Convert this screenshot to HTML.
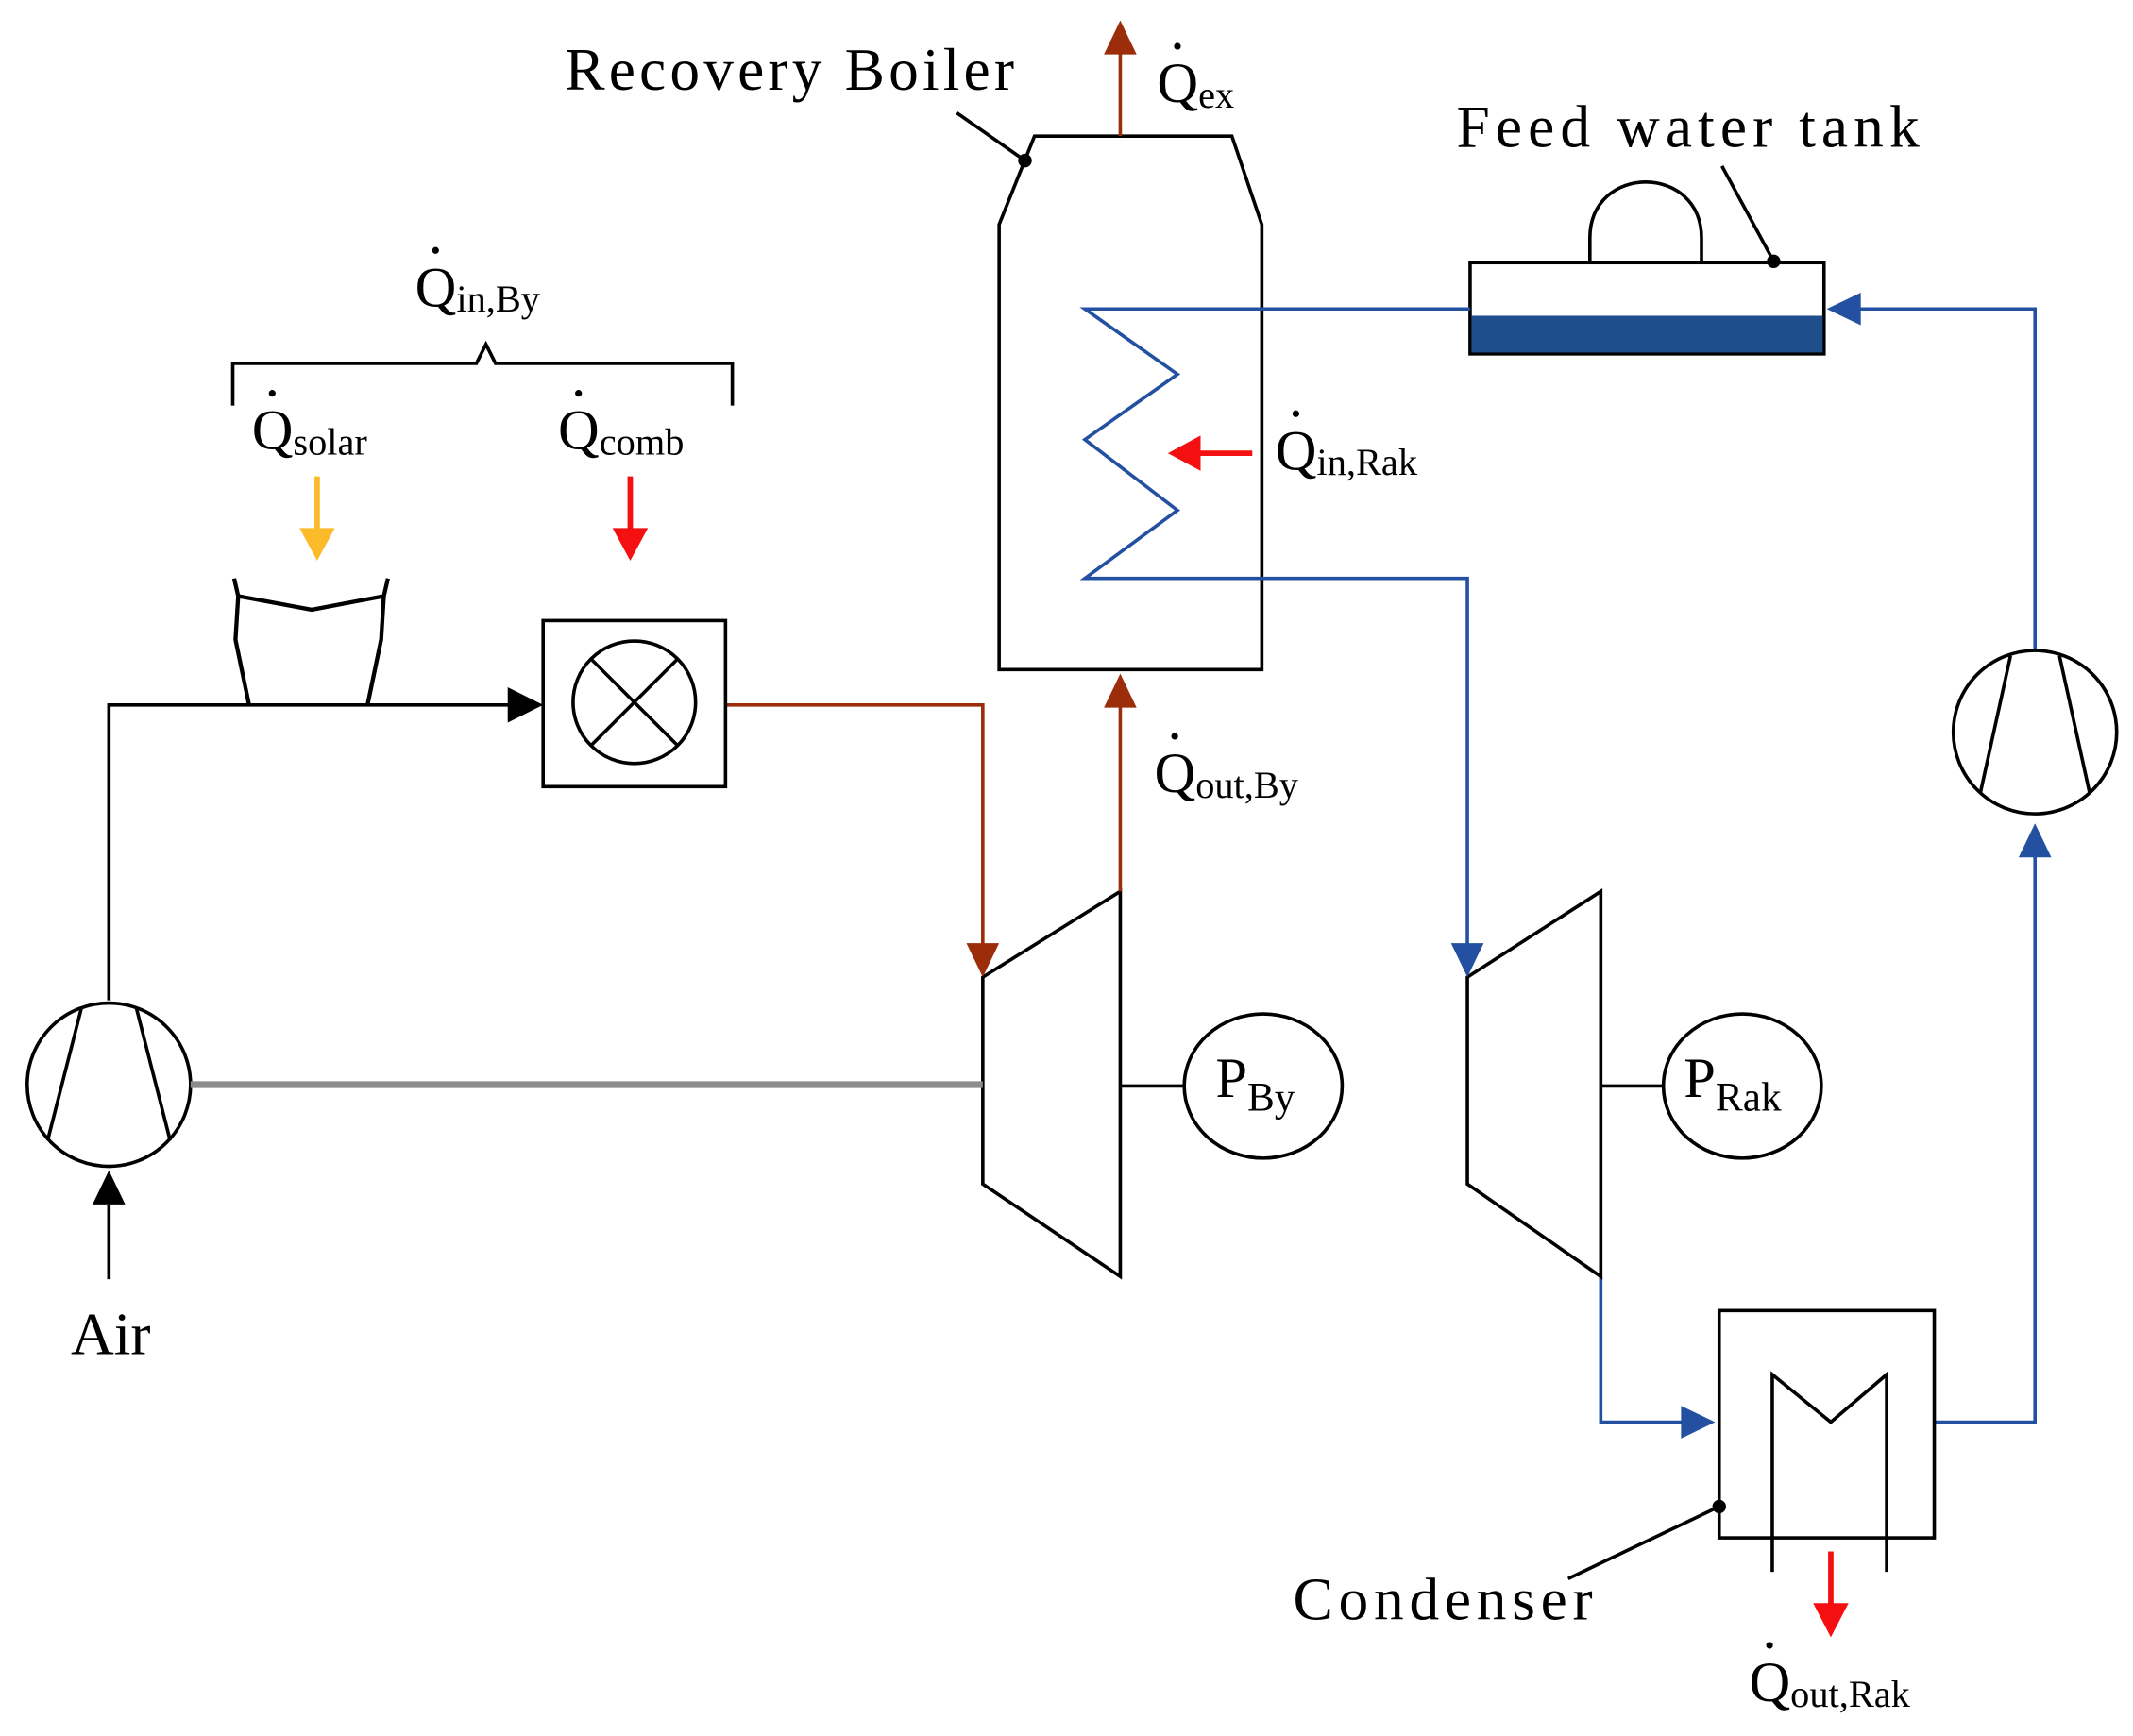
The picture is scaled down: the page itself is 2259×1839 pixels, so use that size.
<!DOCTYPE html>
<html><head><meta charset="utf-8"><style>
html,body{margin:0;padding:0;background:#fff;}
svg{display:block;}
text{font-family:"Liberation Serif",serif;}
</style></head><body>
<svg width="2259" height="1839" viewBox="0 0 1567 1275.6" preserveAspectRatio="none" xmlns="http://www.w3.org/2000/svg">
<rect width="1567" height="1276" fill="#fff"/>
<g fill="none" stroke-width="2.5">
<polygon points="760,100 905,100 927,165 927,492 734,492 734,165" stroke="#000"/>
<line x1="703" y1="83" x2="753" y2="118" stroke="#000"/>
<line x1="823" y1="100" x2="823" y2="35" stroke="#9b2d0a"/>
<rect x="1080" y="193" width="260" height="67" stroke="#000"/>
<path d="M1168,193 L1168,175 C1168,120 1250,120 1250,175 L1250,193" stroke="#000"/>
<line x1="1265" y1="122" x2="1303" y2="192" stroke="#000"/>
<polyline points="1080,227 797,227 865,275 797,323 865,375 797,425 1078,425 1078,700" stroke="#2350a0"/>
<polyline points="1495,478 1495,227 1360,227" stroke="#2350a0"/>
<polyline points="1422,1045 1495,1045 1495,625" stroke="#2350a0"/>
<polyline points="1176,938 1176,1045 1240,1045" stroke="#2350a0"/>
<polygon points="1078,718 1176,655 1176,938 1078,870" stroke="#000"/>
<line x1="1176" y1="798" x2="1222" y2="798" stroke="#000"/>
<ellipse cx="1280" cy="798" rx="58" ry="53" stroke="#000"/>
<rect x="1263" y="963" width="158" height="167" stroke="#000"/>
<polyline points="1302,1155 1302,1010 1345,1045 1386,1010 1386,1155" stroke="#000"/>
<line x1="1263" y1="1107" x2="1152" y2="1160" stroke="#000"/>
<circle cx="1495" cy="538" r="60" stroke="#000"/>
<line x1="1455" y1="582" x2="1477" y2="482" stroke="#000"/>
<line x1="1513" y1="482" x2="1535" y2="582" stroke="#000"/>
<polygon points="722,718 823,655 823,938 722,870" stroke="#000"/>
<line x1="823" y1="798" x2="870" y2="798" stroke="#000"/>
<ellipse cx="928" cy="798" rx="58" ry="53" stroke="#000"/>
<line x1="823" y1="655" x2="823" y2="515" stroke="#9b2d0a"/>
<polyline points="533,518 722,518 722,697" stroke="#9b2d0a"/>
<rect x="399" y="456" width="134" height="122" stroke="#000"/>
<circle cx="466" cy="516" r="45" stroke="#000"/>
<line x1="434" y1="484" x2="498" y2="548" stroke="#000"/>
<line x1="498" y1="484" x2="434" y2="548" stroke="#000"/>
<polyline points="80,735 80,518 378,518" stroke="#000"/>
<path d="M172,425 L175,438 L229,448 L282,438 L285,425 M175,438 L173,470 L183,518 M282,438 L280,470 L270,518" stroke="#000" stroke-width="3"/>
<path d="M171,298 L171,267 L350,267 L357,253 L364,267 L538,267 L538,298" stroke="#000"/>
<circle cx="80" cy="797" r="60" stroke="#000"/>
<line x1="35" y1="838" x2="60" y2="740" stroke="#000"/>
<line x1="100" y1="740" x2="125" y2="838" stroke="#000"/>
<line x1="140" y1="797" x2="722" y2="797" stroke="#8c8c8c" stroke-width="5"/>
<line x1="80" y1="940" x2="80" y2="885" stroke="#000"/>
<line x1="233" y1="350" x2="233" y2="390" stroke="#fbbb2b" stroke-width="4"/>
<line x1="463" y1="350" x2="463" y2="390" stroke="#f41010" stroke-width="4"/>
<line x1="920" y1="333" x2="878" y2="333" stroke="#f41010" stroke-width="4"/>
<line x1="1345" y1="1140" x2="1345" y2="1182" stroke="#f41010" stroke-width="4"/>
</g>
<rect x="1081" y="232" width="258" height="27" fill="#1f4e8c"/>
<g>
<circle cx="753" cy="118" r="5"/><circle cx="1303" cy="192" r="5"/><circle cx="1263" cy="1107" r="5"/>
<polygon points="823,15 811,40 835,40" fill="#9b2d0a"/>
<polygon points="823,495 811,520 835,520" fill="#9b2d0a"/>
<polygon points="722,718 710,693 734,693" fill="#9b2d0a"/>
<polygon points="1078,718 1066,693 1090,693" fill="#2350a0"/>
<polygon points="1342,227 1367,215 1367,239" fill="#2350a0"/>
<polygon points="1495,605 1483,630 1507,630" fill="#2350a0"/>
<polygon points="1260,1045 1235,1033 1235,1057" fill="#2350a0"/>
<polygon points="399,518 373,505 373,531" fill="#000"/>
<polygon points="80,860 68,885 92,885" fill="#000"/>
<polygon points="233,412 220,388 246,388" fill="#fbbb2b"/>
<polygon points="463,412 450,388 476,388" fill="#f41010"/>
<polygon points="858,333 882,320 882,346" fill="#f41010"/>
<polygon points="1345,1203 1332,1178 1358,1178" fill="#f41010"/>
</g>
<g font-size="44" fill="#000">
<text x="415" y="66" textLength="330" lengthAdjust="spacing">Recovery Boiler</text>
<text x="1070" y="108" textLength="340" lengthAdjust="spacing">Feed water tank</text>
<text x="950" y="1190" textLength="220" lengthAdjust="spacing">Condenser</text>
<text x="52" y="995">Air</text>
<text x="893" y="806" font-size="42">P<tspan font-size="30" dy="10">By</tspan></text>
<text x="1237" y="806" font-size="42">P<tspan font-size="30" dy="10">Rak</tspan></text>
</g>
<g font-size="42" fill="#000">
<text x="850" y="75">Q<tspan font-size="28" dy="4">ex</tspan></text><circle cx="865" cy="34" r="2.5"/>
<text x="305" y="225">Q<tspan font-size="28" dy="4">in,By</tspan></text><circle cx="320" cy="184" r="2.5"/>
<text x="185" y="330">Q<tspan font-size="28" dy="4">solar</tspan></text><circle cx="200" cy="289" r="2.5"/>
<text x="410" y="330">Q<tspan font-size="28" dy="4">comb</tspan></text><circle cx="425" cy="289" r="2.5"/>
<text x="937" y="345">Q<tspan font-size="28" dy="4">in,Rak</tspan></text><circle cx="952" cy="304" r="2.5"/>
<text x="848" y="582">Q<tspan font-size="28" dy="4">out,By</tspan></text><circle cx="863" cy="541" r="2.5"/>
<text x="1285" y="1250">Q<tspan font-size="28" dy="4">out,Rak</tspan></text><circle cx="1300" cy="1209" r="2.5"/>
</g>
</svg>
</body></html>
